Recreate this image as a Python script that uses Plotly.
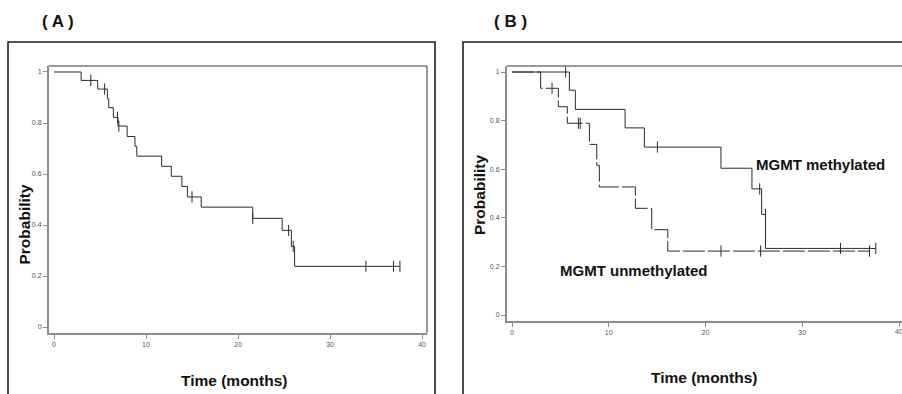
import plotly.graph_objects as go

W, H = 902, 394

# ---------------- data ----------------
# Panel A: overall survival (step events)
a_t = [0, 2.95, 4.75, 5.8, 5.95, 6.45, 6.95, 7.95, 8.8, 9.0, 11.7, 12.75, 13.9, 14.5, 16.0, 21.6, 24.8, 25.8, 26.15]
a_p = [1.0, 0.967, 0.933, 0.895, 0.860, 0.822, 0.788, 0.747, 0.709, 0.670, 0.630, 0.591, 0.551, 0.510, 0.470, 0.426, 0.379, 0.316, 0.238]
a_end = 37.6
a_cens_t = [4.0, 5.5, 6.9, 7.05, 15.0, 21.6, 25.5, 26.0, 33.9, 36.9, 37.6]
a_cens_p = [0.967, 0.933, 0.822, 0.788, 0.510, 0.426, 0.379, 0.316, 0.238, 0.238, 0.238]

# Panel B: MGMT methylated
m_t = [0, 5.93, 6.55, 11.69, 13.68, 21.6, 24.8, 25.8, 26.2]
m_p = [1.0, 0.925, 0.846, 0.770, 0.691, 0.604, 0.519, 0.414, 0.274]
m_end = 37.6
m_cens_t = [5.55, 15.03, 25.6, 26.2, 33.95, 37.6]
m_cens_p = [1.0, 0.691, 0.519, 0.414, 0.274, 0.274]

# Panel B: MGMT unmethylated
u_t = [0, 2.96, 4.79, 5.72, 8.0, 8.76, 9.03, 12.75, 14.44, 16.1]
u_p = [1.0, 0.933, 0.857, 0.789, 0.702, 0.616, 0.527, 0.439, 0.351, 0.263]
u_end = 36.95
u_cens_t = [4.14, 6.86, 7.05, 21.6, 25.7, 36.95]
u_cens_p = [0.933, 0.789, 0.789, 0.263, 0.263, 0.263]

x_ticks = [0, 10, 20, 30, 40]
y_ticks = [0, 0.2, 0.4, 0.6, 0.8, 1]
y_tick_text = ["0", "0.2", "0.4", "0.6", "0.8", "1"]

# ---------------- helpers ----------------
def px(x):
    return x / W

def py(y):
    return 1 - y / H

LINE = "#2b2b2b"
AXIS = "#8c8c8c"

fig = go.Figure()

def add_curve(t, p, end, xa, ya, dash="solid"):
    fig.add_trace(go.Scatter(
        x=list(t) + [end], y=list(p) + [p[-1]], mode="lines",
        line=dict(shape="hv", color=LINE, width=1, dash=dash),
        xaxis=xa, yaxis=ya, showlegend=False, hoverinfo="skip"))

def add_cens(t, p, xa, ya):
    fig.add_trace(go.Scatter(
        x=t, y=p, mode="markers",
        marker=dict(symbol="line-ns-open", size=8, color=LINE, line=dict(color=LINE, width=1)),
        xaxis=xa, yaxis=ya, showlegend=False, hoverinfo="skip"))

add_curve(a_t, a_p, a_end, "x", "y")
add_cens(a_cens_t, a_cens_p, "x", "y")
add_curve(m_t, m_p, m_end, "x2", "y2")
add_cens(m_cens_t, m_cens_p, "x2", "y2")
add_curve(u_t, u_p, u_end, "x2", "y2", dash="22px,3px")
add_cens(u_cens_t, u_cens_p, "x2", "y2")

tickfont = dict(family="Liberation Sans, Arial", size=7, color="#555")
common_x = dict(tickvals=x_ticks, ticks="outside", ticklen=4, tickcolor=AXIS, tickwidth=1,
                showline=True, linecolor=AXIS, linewidth=2, showgrid=False, zeroline=False,
                tickfont=tickfont, fixedrange=True)
common_y = dict(tickvals=y_ticks, ticktext=y_tick_text, ticks="outside", ticklen=4, tickcolor=AXIS,
                tickwidth=1, showline=True, linecolor=AXIS, linewidth=2, showgrid=False,
                zeroline=False, tickfont=tickfont, fixedrange=True)

# Panel A geometry (pixels)
A_l, A_r, A_t, A_b = 49, 427, 66, 333
# Panel B geometry
B_l, B_r, B_t, B_b = 507, 902, 66, 321

fig.update_layout(
    width=W, height=H, autosize=False,
    margin=dict(l=0, r=0, t=0, b=0),
    paper_bgcolor="white", plot_bgcolor="white",
    xaxis=dict(domain=[px(A_l), px(A_r)], range=[-0.543, 40.54], anchor="y", **common_x),
    yaxis=dict(domain=[py(A_b), py(A_t)], range=[-0.0235, 1.0235], anchor="x", **common_y),
    xaxis2=dict(domain=[px(B_l), 1.0], range=[-0.517, 40.31], anchor="y2", **common_x),
    yaxis2=dict(domain=[py(B_b), py(B_t)], range=[-0.0247, 1.0247], anchor="x2", **common_y),
)

shapes = []
# outer panel frames
shapes.append(dict(type="path", xref="paper", yref="paper",
                   path=f"M {px(8)} {py(400)} L {px(8)} {py(42)} L {px(435)} {py(42)} L {px(435)} {py(400)}",
                   line=dict(color="#1e1e1e", width=1.6)))
shapes.append(dict(type="path", xref="paper", yref="paper",
                   path=f"M {px(463)} {py(400)} L {px(463)} {py(42)} L {px(910)} {py(42)}",
                   line=dict(color="#1e1e1e", width=1.6)))
# plot-area top/right lines
shapes.append(dict(type="path", xref="paper", yref="paper",
                   path=f"M {px(A_l)} {py(A_t)} L {px(A_r)} {py(A_t)} L {px(A_r)} {py(A_b)}",
                   line=dict(color="#333", width=1)))
shapes.append(dict(type="line", xref="paper", yref="paper",
                   x0=px(B_l), y0=py(B_t), x1=px(910), y1=py(B_t),
                   line=dict(color="#333", width=1)))
fig.update_layout(shapes=shapes)

bold = dict(family="Liberation Sans, Arial", color="#111")
ann = []
def text(x, y, s, size, angle=0, xanchor="center"):
    ann.append(dict(x=px(x), y=py(y), xref="paper", yref="paper", text=s, showarrow=False,
                    xanchor=xanchor, yanchor="middle", textangle=angle,
                    font=dict(size=size, **bold)))

text(58, 21.5, "<b>( A )</b>", 17)
text(510, 21.5, "<b>( B )</b>", 17)
text(234.5, 380.5, "<b>Time (months)</b>", 15.5)
text(704.5, 377.5, "<b>Time (months)</b>", 15.5)
text(23.5, 225, "<b>Probability</b>", 15.5, angle=-90)
text(479, 195, "<b>Probability</b>", 15.5, angle=-90)
text(754, 164, "<b>MGMT methylated</b>", 15, xanchor="left")
text(558, 270, "<b>MGMT unmethylated</b>", 15, xanchor="left")

# last x tick label of panel B (partly cut off at the right edge, as in the reference)
ann.append(dict(x=x_ticks[-1], y=py(331), xref="x2", yref="paper", text=str(x_ticks[-1]),
                showarrow=False, xanchor="center", yanchor="middle",
                font=tickfont))
fig.update_layout(annotations=ann)

fig.write_html("out.html")
